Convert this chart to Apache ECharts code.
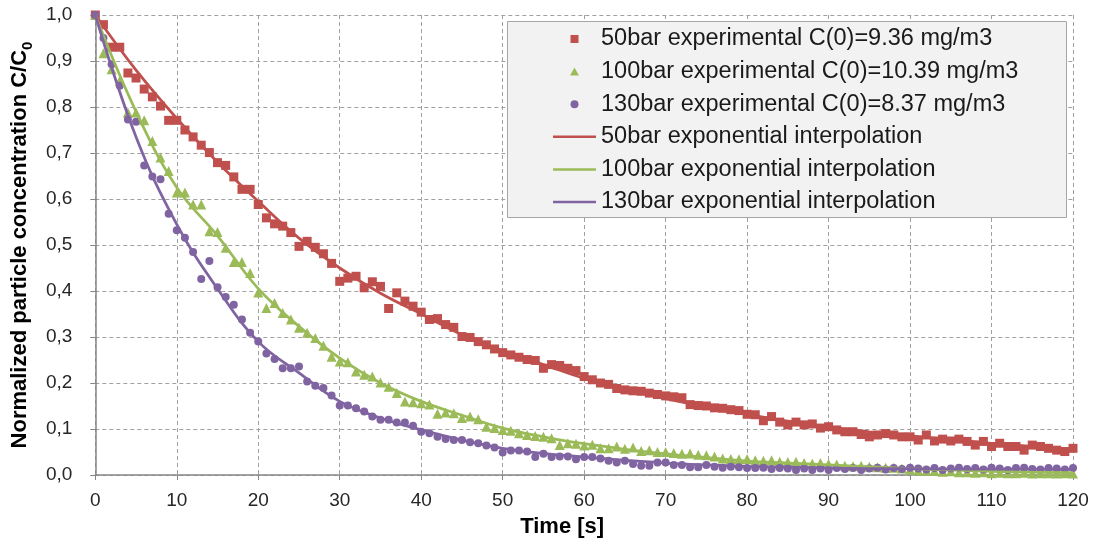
<!DOCTYPE html>
<html><head><meta charset="utf-8">
<script src="https://cdn.jsdelivr.net/npm/echarts@6/dist/echarts.min.js"></script>
<style>html,body{margin:0;padding:0;background:#fff}#c{width:1093px;height:546px}</style>
</head><body><div id="c"></div>
<script>
const time = [0,1,2,3,4,5,6,7,8,9,10,11,12,13,14,15,16,17,18,19,20,21,22,23,24,25,26,27,28,29,30,31,32,33,34,35,36,37,38,39,40,41,42,43,44,45,46,47,48,49,50,51,52,53,54,55,56,57,58,59,60,61,62,63,64,65,66,67,68,69,70,71,72,73,74,75,76,77,78,79,80,81,82,83,84,85,86,87,88,89,90,91,92,93,94,95,96,97,98,99,100,101,102,103,104,105,106,107,108,109,110,111,112,113,114,115,116,117,118,119,120];

const exp50 = [1.000,0.979,0.930,0.930,0.874,0.863,0.839,0.822,0.802,0.771,0.771,0.750,0.735,0.717,0.701,0.679,0.673,0.648,0.621,0.621,
0.588,0.559,0.546,0.541,0.527,0.497,0.508,0.495,0.481,0.460,0.421,0.428,0.432,0.407,0.420,0.410,0.362,0.396,0.378,0.367,
0.354,0.338,0.340,0.327,0.321,0.301,0.299,0.290,0.283,0.274,0.266,0.261,0.256,0.251,0.249,0.232,0.240,0.238,0.232,0.227,
0.214,0.207,0.200,0.197,0.188,0.185,0.183,0.182,0.178,0.175,0.172,0.170,0.168,0.153,0.151,0.150,0.146,0.145,0.142,0.140,
0.132,0.131,0.118,0.127,0.115,0.109,0.115,0.109,0.111,0.102,0.105,0.098,0.094,0.094,0.088,0.083,0.087,0.090,0.087,0.083,
0.083,0.076,0.087,0.074,0.078,0.074,0.078,0.073,0.065,0.073,0.062,0.069,0.062,0.062,0.054,0.065,0.062,0.058,0.054,0.051,0.058];

const exp100 = [1.000,0.917,0.882,0.857,0.788,0.788,0.771,0.726,0.690,0.661,0.614,0.614,0.588,0.588,0.530,0.528,0.494,0.463,0.463,0.439,
0.397,0.363,0.374,0.352,0.338,0.320,0.309,0.298,0.281,0.257,0.247,0.245,0.225,0.218,0.214,0.201,0.192,0.178,0.160,0.158,
0.156,0.153,0.133,0.136,0.134,0.124,0.127,0.121,0.105,0.102,0.098,0.096,0.091,0.087,0.085,0.083,0.080,0.065,0.069,0.068,
0.064,0.066,0.058,0.058,0.062,0.057,0.060,0.052,0.054,0.050,0.050,0.048,0.046,0.047,0.044,0.043,0.040,0.036,0.035,0.034,
0.035,0.032,0.031,0.032,0.029,0.028,0.029,0.026,0.025,0.026,0.024,0.023,0.020,0.019,0.020,0.018,0.017,0.016,0.016,0.014,
0.012,0.010,0.009,0.009,0.007,0.008,0.006,0.006,0.005,0.006,0.004,0.005,0.004,0.004,0.005,0.003,0.004,0.004,0.003,0.004,0.003];

const exp130 = [1.000,0.950,0.893,0.846,0.773,0.768,0.673,0.649,0.643,0.568,0.532,0.516,0.485,0.426,0.465,0.408,0.387,0.370,0.338,0.309,
0.290,0.264,0.252,0.232,0.232,0.236,0.203,0.194,0.189,0.173,0.151,0.151,0.145,0.138,0.127,0.120,0.120,0.114,0.114,0.107,
0.094,0.091,0.083,0.078,0.076,0.076,0.071,0.069,0.064,0.060,0.049,0.053,0.053,0.051,0.039,0.046,0.039,0.040,0.040,0.034,
0.039,0.039,0.036,0.031,0.027,0.031,0.024,0.020,0.020,0.027,0.027,0.022,0.022,0.017,0.017,0.022,0.018,0.016,0.018,0.017,
0.015,0.015,0.016,0.013,0.015,0.014,0.011,0.014,0.011,0.014,0.011,0.015,0.013,0.015,0.011,0.014,0.016,0.012,0.015,0.013,
0.016,0.014,0.012,0.015,0.011,0.014,0.016,0.013,0.015,0.012,0.016,0.014,0.011,0.015,0.016,0.013,0.012,0.015,0.014,0.012,0.015];

const fitTime = [0,5,10,15,20,25,30,35,40,45,50,55,60,65,70,75,80,85,90,95,100,105,110,115,120];
const fit50  = [1.0,0.88,0.775,0.68,0.595,0.515,0.45,0.395,0.35,0.305,0.27,0.24,0.21,0.186,0.166,0.148,0.132,0.117,0.104,0.094,0.085,0.077,0.069,0.062,0.056];
const fit100 = [1.0,0.79,0.625,0.52,0.405,0.323,0.254,0.200,0.160,0.130,0.102,0.083,0.068,0.056,0.046,0.038,0.030,0.026,0.022,0.018,0.014,0.011,0.008,0.006,0.005];
const fit130 = [1.0,0.735,0.545,0.405,0.29,0.222,0.16,0.124,0.098,0.076,0.058,0.047,0.039,0.032,0.026,0.022,0.019,0.017,0.015,0.014,0.014,0.013,0.013,0.013,0.012];

const names = [
  '50bar experimental C(0)=9.36 mg/m3',
  '100bar experimental C(0)=10.39 mg/m3',
  '130bar experimental C(0)=8.37 mg/m3',
  '50bar exponential interpolation',
  '100bar exponential interpolation',
  '130bar exponential interpolation'
];
const colors = ['#c0504d', '#9bbb59', '#8064a2'];
const xTitle = 'Time [s]';
const yTitle = 'Normalized particle concentration C/C{s|0}';

const FONT = '"Liberation Sans", Arial, sans-serif';
const pair = (xs, ys) => xs.map((x, i) => [x, ys[i]]);

const legendIcons = [
  'path://M0,0L10,0L10,10L0,10Z',
  'path://M5,0L10,9L0,9Z',
  'path://M5,0A5,5 0 1 1 5,10A5,5 0 1 1 5,0Z',
  'path://M0,0L86,0L86,5L0,5Z',
  'path://M0,0L86,0L86,5L0,5Z',
  'path://M0,0L86,0L86,5L0,5Z'
];

const chart = echarts.init(document.getElementById('c'), null, {renderer: 'canvas'});
const scatterDefs = [
  {data: exp50, symbol: 'rect', size: 9},
  {data: exp100, symbol: 'triangle', size: 10},
  {data: exp130, symbol: 'circle', size: 8}
];
const fits = [fit50, fit100, fit130];
const series = [];
scatterDefs.forEach((d, i) => {
  series.push({
    name: names[i], type: 'scatter', data: pair(time, d.data),
    symbol: d.symbol, symbolSize: d.size,
    itemStyle: {color: colors[i], opacity: 1}, z: 2, animation: false
  });
});
fits.forEach((f, i) => {
  series.push({
    name: names[i + 3], type: 'line', data: pair(fitTime, f),
    smooth: 0.4, symbol: 'none', showSymbol: false,
    lineStyle: {color: colors[i], width: 2.75}, itemStyle: {color: colors[i]},
    z: 3, animation: false
  });
});

chart.setOption({
  animation: false,
  backgroundColor: '#ffffff',
  grid: {left: 91, right: 20, top: 15, bottom: 71, containLabel: false},
  graphic: [{
    type: 'rect', z: 4, left: 507, top: 21,
    shape: {x: 0, y: 0, width: 559, height: 196},
    style: {fill: '#f2f2f2', stroke: '#a6a6a6', lineWidth: 1}
  }],
  legend: {
    orient: 'vertical', left: 553, top: 27, z: 6, padding: 0,
    itemWidth: 43, itemHeight: 8, itemGap: 8.6, symbolKeepAspect: true,
    textStyle: {fontFamily: FONT, fontSize: 23.5, color: '#1a1a1a', lineHeight: 22},
    data: names.map((n, i) => ({
      name: n, icon: legendIcons[i],
      itemStyle: {color: colors[i % 3], borderWidth: 0},
      lineStyle: {width: 0}
    }))
  },
  xAxis: {
    type: 'value', min: 0, max: 120, interval: 10,
    name: xTitle, nameLocation: 'middle', nameGap: 41,
    nameTextStyle: {fontFamily: FONT, fontSize: 22, fontWeight: 'bold', color: '#000', padding: [0, 44, 0, 0]},
    axisLine: {show: true, onZero: false, lineStyle: {color: '#868686', width: 1.5}},
    axisTick: {show: true, length: 5, lineStyle: {color: '#868686'}},
    axisLabel: {fontFamily: FONT, fontSize: 19, color: '#262626', margin: 16},
    splitLine: {show: true, lineStyle: {color: '#a0a0a0', type: [4, 3], width: 1}}
  },
  yAxis: {
    type: 'value', min: 0, max: 1, interval: 0.1,
    name: yTitle, nameLocation: 'middle', nameGap: 57,
    nameTextStyle: {
      fontFamily: FONT, fontSize: 22, fontWeight: 'bold', color: '#000', lineHeight: 24,
      rich: {s: {fontFamily: FONT, fontSize: 15, fontWeight: 'bold', color: '#000', lineHeight: 15, verticalAlign: 'bottom', padding: [0, 0, -3, 0]}}
    },
    axisLine: {show: true, lineStyle: {color: '#868686', width: 1.5}},
    axisTick: {show: true, length: 5, lineStyle: {color: '#868686'}},
    axisLabel: {fontFamily: FONT, fontSize: 19, color: '#262626', margin: 23,
      formatter: v => v.toFixed(1).replace('.', ',')},
    splitLine: {show: true, lineStyle: {color: '#a0a0a0', type: [4, 3], width: 1}}
  },
  series: series
});
</script>
</body></html>
